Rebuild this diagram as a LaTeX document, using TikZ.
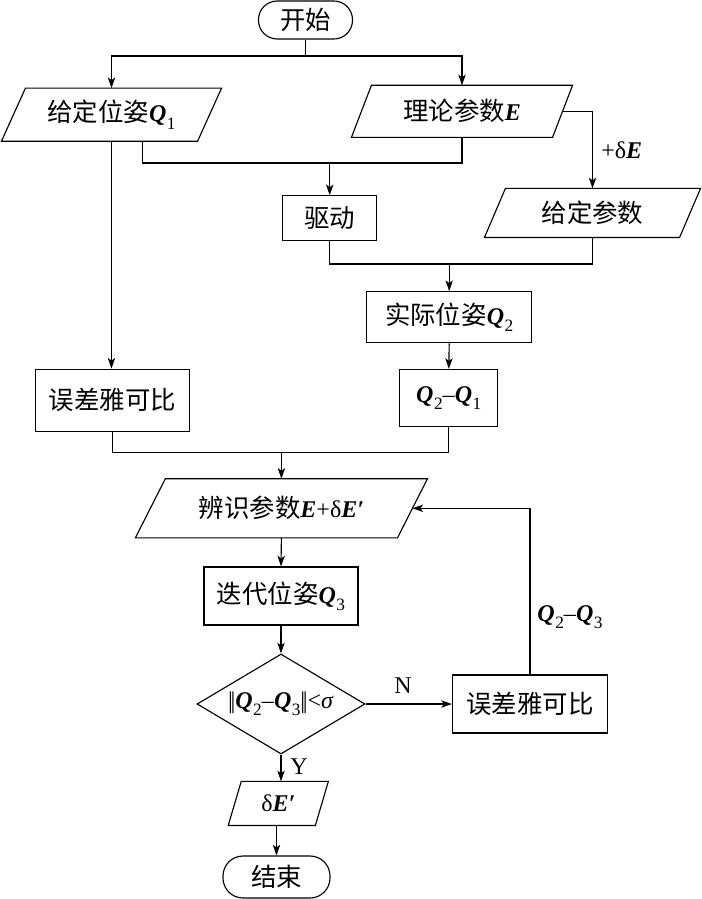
\documentclass[tikz,border=0pt]{standalone}
\usepackage{fontspec}
\setmainfont{Liberation Serif}
\newfontfamily\cjk[Scale=1.06]{Noto Sans CJK SC}
\usetikzlibrary{shapes.geometric,arrows.meta,calc}
\newcommand\bQ{\textbf{\textit{Q}}}
\newcommand\bE{\textbf{\textit{E}}}
\newcommand\mysub[1]{\kern0.02em\raisebox{-0.3em}{\fontsize{13}{13}\selectfont #1}}
\newcommand\nrm{\textbar\kern-0.1em\textbar}
\newcommand\pgramdraw[2]{\draw ($(#1.south west)+(-#2/2,0)$) -- ($(#1.north west)+(#2/2,0)$) -- ($(#1.north east)+(#2/2,0)$) -- ($(#1.south east)+(-#2/2,0)$) -- cycle;}
\begin{document}
\begin{tikzpicture}[x=0.75pt,y=-0.75pt, line width=0.85pt, font=\fontsize{18}{20}\selectfont,
 box/.style={draw, rectangle, inner sep=0pt, align=center},
 pg/.style={rectangle, inner sep=0pt, align=center},
 term/.style={draw, rectangle, rounded corners=14pt, inner sep=0pt},
 dia/.style={draw, diamond, aspect=1.68, inner sep=0pt, minimum width=126pt, minimum height=75pt},
 arr/.style={-{Stealth[length=8pt,width=5.5pt,inset=2pt]}},
 lbl/.style={inner sep=0pt}]
\path[fill=white] (0,0) rectangle (700,899);
% nodes
\node[term, minimum width=70.5pt, minimum height=28.5pt] (start) at (305.5,20) {\cjk 开始};
\node[pg, minimum width=146.25pt, minimum height=39pt] (q1) at (111.5,114.7) {{\cjk 给定位姿}\bQ\mysub{1}};
\node[pg, minimum width=150pt, minimum height=38.25pt] (E) at (462,111.3) {{\cjk 理论参数}\bE};
\node[pg, minimum width=145.5pt, minimum height=36pt] (GP) at (592.5,212.9) {\cjk 给定参数};
\node[box, minimum width=70.5pt, minimum height=33.75pt] (drive) at (329.7,218.3) {\cjk 驱动};
\node[box, minimum width=123.75pt, minimum height=38.25pt] (Q2) at (449.2,317.2) {{\cjk 实际位姿}\bQ\mysub{2}};
\node[box, minimum width=73.5pt, minimum height=42.75pt] (Q21) at (448.8,398) {\bQ\mysub{2}–\bQ\mysub{1}};
\node[box, minimum width=115.5pt, minimum height=46.5pt] (J1) at (112.5,400.2) {\cjk 误差雅可比};
\node[pg, minimum width=195.75pt, minimum height=43.5pt] (Id) at (281.4,508.3) {{\cjk 辨识参数}\bE+δ\textbf{\textit{E′}}};
\node[box, minimum width=115.5pt, minimum height=43.5pt] (It) at (281,596) {{\cjk 迭代位姿}\bQ\mysub{3}};
\node[dia] (D) at (281,704) {\nrm\bQ\mysub{2}–\bQ\mysub{3}\nrm<\textit{σ}};
\node[box, minimum width=116.25pt, minimum height=43.5pt] (J2) at (530,704) {\cjk 误差雅可比};
\node[pg, minimum width=64.5pt, minimum height=32.25pt] (dE) at (278.3,803.4) {δ\textbf{\textit{E′}}};
\node[term, minimum width=80.25pt, minimum height=31.5pt, rounded corners=15pt] (end) at (276.5,877) {\cjk 结束};
% parallelogram outlines
\pgramdraw{q1}{24}
\pgramdraw{E}{20}
\pgramdraw{GP}{21}
\pgramdraw{Id}{30}
\pgramdraw{dE}{13}
% junction coordinates
\coordinate (s1) at (305.5,56);
\coordinate (m1) at (329.7,163);
\coordinate (m2) at (449.2,264);
\coordinate (m3) at (281.4,452.3);
% connectors
\draw (start.south) -- (s1);
\draw[arr] (s1) -| (q1.north);
\draw[arr] (s1) -| (E.north);
\draw ($(q1.south)+(31,0)$) |- (E.south |- m1) -- (E.south);
\draw[arr] (m1) -- (drive.north);
\draw[arr] (E.east) -| (GP.north);
\draw (drive.south) |- (GP.south |- m2) -- (GP.south);
\draw[arr] (m2) -- (Q2.north);
\draw[arr] (Q2.south) -- (Q21.north);
\draw[arr] (q1.south) -- (q1.south |- J1.north);
\draw (J1.south) |- (Q21.south |- m3) -- (Q21.south);
\draw[arr] (m3) -- (Id.north);
\draw[arr] (Id.south) -- (It.north);
\draw[arr] (It.south) -- (D.north);
\draw[arr] (D.east) -- (J2.west);
\draw[arr] (J2.north) |- (Id.east);
\draw[arr] (D.south) -- (D.south |- dE.north);
\draw[arr] (dE.south -| end.north) -- (end.north);
% labels
\node[lbl] (lE) at (621.7,150) {+δ\bE};
\node[lbl] (lN) at (403,686) {N};
\node[lbl] (lY) at (299,767) {Y};
\node[lbl] (lQ) at (570,617) {\bQ\mysub{2}–\bQ\mysub{3}};
\end{tikzpicture}
\end{document}
